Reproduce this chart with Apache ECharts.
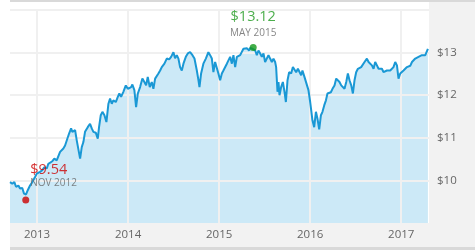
<!DOCTYPE html>
<html>
<head>
<meta charset="utf-8">
<script src="https://cdn.jsdelivr.net/npm/echarts@6/dist/echarts.min.js"></script>
<style>
  html, body { margin: 0; padding: 0; background: #ffffff; }
  #wrap { position: relative; width: 475px; height: 250px; overflow: hidden; background: #ffffff; }
  .bg { position: absolute; }
  #chart { position: absolute; left: 0; top: 0; width: 475px; height: 250px; }
</style>
</head>
<body>
<div id="wrap">
  <div class="bg" style="left:10px;top:0;width:465px;height:2px;background:#d9d9d9;"></div>
  <div class="bg" style="left:429px;top:2px;width:46px;height:245px;background:#f2f2f2;"></div>
  <div class="bg" style="left:10px;top:223px;width:465px;height:24px;background:#f2f2f2;"></div>
  <div class="bg" style="left:10px;top:247px;width:465px;height:3px;background:#d9d9d9;"></div>
  <div id="chart"></div>
</div>
<script>
// Time in decimal years
const times = [
  2012.703, 2012.729, 2012.751, 2012.769, 2012.795, 2012.813, 2012.838, 2012.857, 2012.879, 2012.898,
  2012.923, 2012.948, 2012.978, 2012.997, 2013.014, 2013.033, 2013.058, 2013.080, 2013.107, 2013.124,
  2013.143, 2013.168, 2013.190, 2013.216, 2013.234, 2013.253, 2013.271, 2013.289, 2013.308,
  2013.326, 2013.352, 2013.374, 2013.388, 2013.418, 2013.436, 2013.454, 2013.473, 2013.491, 2013.509,
  2013.527, 2013.557, 2013.582, 2013.601, 2013.619, 2013.645, 2013.667, 2013.681, 2013.700, 2013.718,
  2013.740, 2013.762, 2013.784, 2013.802, 2013.821, 2013.838, 2013.865, 2013.887, 2013.904, 2013.923,
  2013.948, 2013.975, 2013.997,
  2014.011, 2014.033, 2014.047, 2014.069, 2014.088, 2014.107, 2014.132, 2014.157, 2014.179, 2014.198,
  2014.216, 2014.238, 2014.260, 2014.278, 2014.297, 2014.315, 2014.333, 2014.352, 2014.370, 2014.399,
  2014.425, 2014.451, 2014.473, 2014.498, 2014.516, 2014.535, 2014.553, 2014.571, 2014.590, 2014.608,
  2014.634, 2014.656,
  2014.681, 2014.707, 2014.729, 2014.755, 2014.773, 2014.784, 2014.802, 2014.827, 2014.854, 2014.882,
  2014.901, 2014.920, 2014.937, 2014.956, 2014.975, 2014.992, 2015.011, 2015.030, 2015.047, 2015.066,
  2015.085, 2015.102, 2015.121, 2015.140, 2015.157, 2015.176, 2015.195, 2015.212, 2015.231, 2015.250,
  2015.267, 2015.286, 2015.304, 2015.330,
  2015.341, 2015.366, 2015.396, 2015.414, 2015.432, 2015.451, 2015.469, 2015.487, 2015.505, 2015.524,
  2015.542, 2015.560, 2015.579, 2015.597, 2015.615, 2015.626, 2015.641, 2015.652, 2015.663, 2015.681,
  2015.700, 2015.718, 2015.733, 2015.751, 2015.769, 2015.791, 2015.810, 2015.827, 2015.846, 2015.865,
  2015.882, 2015.901, 2015.915, 2015.937, 2015.956,
  2015.981, 2016.000, 2016.011, 2016.025, 2016.044, 2016.063, 2016.080, 2016.099, 2016.118, 2016.135,
  2016.154, 2016.173, 2016.190, 2016.209, 2016.227, 2016.245, 2016.267, 2016.286, 2016.304, 2016.322,
  2016.341, 2016.359, 2016.377, 2016.396, 2016.414, 2016.432, 2016.451, 2016.469, 2016.487, 2016.505,
  2016.524, 2016.542, 2016.560, 2016.579, 2016.597,
  2016.623, 2016.641, 2016.659, 2016.678, 2016.696, 2016.714, 2016.733, 2016.751, 2016.769, 2016.788,
  2016.805, 2016.824, 2016.843, 2016.860, 2016.879, 2016.898, 2016.915, 2016.934, 2016.953, 2016.970,
  2016.989, 2017.008, 2017.025, 2017.044, 2017.063, 2017.080, 2017.099, 2017.118, 2017.135, 2017.154,
  2017.173, 2017.190, 2017.209, 2017.227, 2017.245, 2017.264, 2017.282, 2017.293
];
const prices = [
  9.96, 9.92, 9.96, 9.85, 9.88, 9.81, 9.82, 9.69, 9.67, 9.77,
  9.88, 9.96, 10.08, 10.16, 10.14, 10.20, 10.24, 10.31, 10.28, 10.39,
  10.43, 10.45, 10.51, 10.47, 10.51, 10.67, 10.63, 10.75, 10.82,
  10.86, 11.10, 11.22, 11.14, 11.18, 10.94, 10.98, 10.51, 10.78, 10.90,
  11.14, 11.25, 11.33, 11.22, 11.14, 11.12, 10.98, 11.25, 11.53, 11.61,
  11.53, 11.37, 11.80, 11.92, 11.80, 11.88, 11.84, 11.96, 12.04, 11.96,
  12.08, 12.23, 12.15,
  12.19, 12.19, 12.25, 12.12, 11.72, 12.04, 12.19, 12.39, 12.31, 12.23,
  12.43, 12.19, 12.31, 12.15, 12.39, 12.43, 12.51, 12.58, 12.66, 12.74,
  12.86, 12.84, 12.90, 13.01, 12.87, 12.94, 12.86, 12.66, 12.58, 12.74,
  12.90, 12.98,
  13.01, 12.94, 12.86, 12.58, 12.35, 12.19, 12.51, 12.74, 12.86, 13.01,
  12.94, 12.86, 12.54, 12.78, 12.82, 12.51, 12.35, 12.51, 12.58, 12.62,
  12.74, 12.78, 12.90, 12.74, 12.94, 12.66, 12.90, 12.90, 12.94, 12.98,
  13.09, 13.05, 13.10, 13.05,
  13.11, 13.09, 13.05, 12.94, 13.05, 12.98, 12.90, 12.98, 12.78, 12.74,
  12.94, 12.86, 12.78, 12.86, 12.78, 12.66, 12.08, 12.31, 12.00, 12.19,
  12.31, 12.08, 11.84, 12.35, 12.54, 12.51, 12.66, 12.70, 12.54, 12.62,
  12.66, 12.47, 12.58, 12.43, 12.40,
  12.12, 11.84, 11.65, 11.41, 11.25, 11.61, 11.45, 11.20, 11.53, 11.61,
  11.76, 11.88, 12.04, 12.08, 12.07, 12.15, 12.23, 12.39, 12.35, 12.31,
  12.23, 12.19, 12.15, 12.31, 12.51, 12.35, 12.23, 12.04, 12.35, 12.54,
  12.62, 12.62, 12.66, 12.70, 12.78,
  12.86, 12.78, 12.82, 12.70, 12.62, 12.78, 12.70, 12.62, 12.66, 12.62,
  12.54, 12.51, 12.58, 12.54, 12.58, 12.62, 12.66, 12.78, 12.70, 12.39,
  12.51, 12.54, 12.58, 12.62, 12.66, 12.70, 12.69, 12.78, 12.82, 12.86,
  12.84, 12.90, 12.89, 12.94, 12.92, 12.94, 12.95, 13.09
];
const yearTicks = [2013, 2014, 2015, 2016, 2017];
const priceGrid = [10, 11, 12, 13, 14];
const priceLabels = [10, 11, 12, 13];
const lowPoint = [2012.876, 9.54];
const lowText = ['$9.54', 'NOV 2012'];
const highPoint = [2015.374, 13.12];
const highText = ['$13.12', 'MAY 2015'];
const xRange = [2012.703, 2017.305];
const yRange = [9, 14];

const seriesData = times.map((t, i) => [t, prices[i]]);
const FONT = "'Open Sans', 'Noto Sans', sans-serif";

const chart = echarts.init(document.getElementById('chart'), null, { renderer: 'canvas' });
chart.setOption({
  animation: false,
  textStyle: { fontFamily: FONT },
  grid: { left: 10, right: 46, top: 10, bottom: 27, containLabel: false },
  xAxis: {
    type: 'value',
    min: xRange[0],
    max: xRange[1],
    axisLine: { show: false },
    axisTick: { show: false },
    splitLine: { show: false },
    axisLabel: {
      customValues: yearTicks,
      formatter: v => (yearTicks.indexOf(Math.round(v)) >= 0 && Math.abs(v - Math.round(v)) < 1e-6) ? String(Math.round(v)) : '',
      color: '#666666',
      fontSize: 11.5,
      fontFamily: FONT,
      margin: 6
    }
  },
  yAxis: {
    type: 'value',
    position: 'right',
    min: yRange[0],
    max: yRange[1],
    interval: 1,
    axisLine: { show: false },
    axisTick: { show: false },
    splitLine: { show: false },
    axisLabel: {
      formatter: v => priceLabels.indexOf(v) >= 0 ? '$' + v : '',
      color: '#666666',
      fontSize: 11.5,
      fontFamily: FONT,
      margin: 8
    }
  },
  series: [
    {
      type: 'line',
      data: seriesData,
      showSymbol: false,
      symbol: 'none',
      lineStyle: { width: 0, opacity: 0 },
      areaStyle: { color: '#cce9f7', opacity: 1 },
      z: 2,
      silent: true,
      markLine: {
        silent: true,
        symbol: 'none',
        z: 4,
        label: { show: false },
        lineStyle: { color: '#f0f0f0', width: 2, type: 'solid' },
        emphasis: { disabled: true },
        data: yearTicks.map(v => ({ xAxis: v })).concat(priceGrid.map(v => ({ yAxis: v })))
      }
    },
    {
      type: 'line',
      data: seriesData,
      showSymbol: false,
      symbol: 'none',
      lineStyle: { width: 2, color: '#1a98d5' },
      z: 10,
      silent: true
    },
    {
      type: 'scatter',
      data: [highPoint],
      symbolSize: 7,
      itemStyle: { color: '#14991a' },
      z: 12,
      label: {
        show: true,
        position: 'top',
        distance: 5,
        align: 'center',
        formatter: '{a|' + highText[0] + '}\n{b|' + highText[1] + '}',
        rich: {
          a: { color: '#1f9a1f', fontSize: 14.5, lineHeight: 20, fontFamily: FONT, align: 'center' },
          b: { color: '#666666', fontSize: 10, lineHeight: 12, fontFamily: FONT, align: 'center' }
        }
      }
    },
    {
      type: 'scatter',
      data: [lowPoint],
      symbolSize: 7,
      itemStyle: { color: '#cc0000' },
      z: 12,
      label: {
        show: true,
        position: [8, -7],
        align: 'left',
        verticalAlign: 'bottom',
        formatter: '{a|' + lowText[0] + '}\n{b|' + lowText[1] + '}',
        rich: {
          a: { color: '#cc0000', fontSize: 14.5, lineHeight: 15, fontFamily: FONT },
          b: { color: '#666666', fontSize: 10, lineHeight: 12, fontFamily: FONT }
        }
      }
    }
  ]
});
</script>
</body>
</html>
